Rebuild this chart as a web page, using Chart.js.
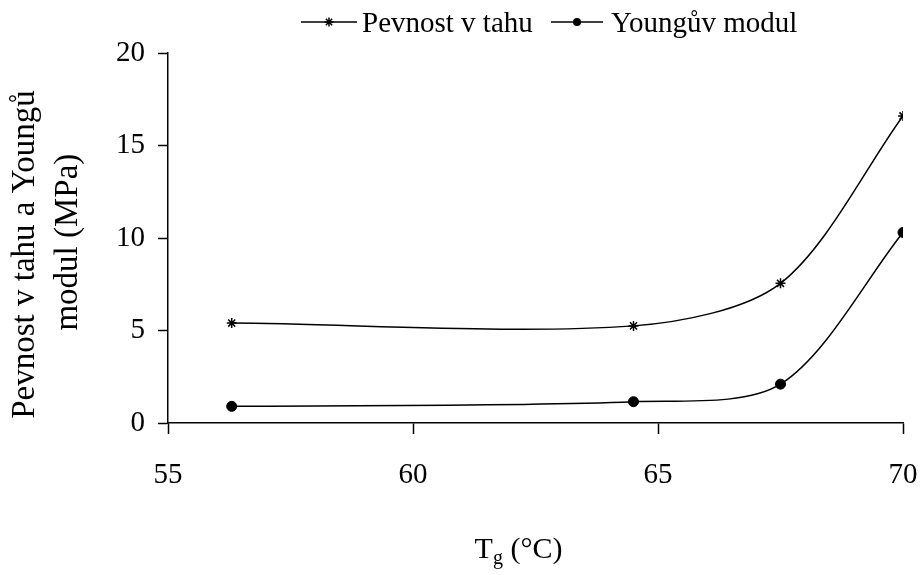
<!DOCTYPE html>
<html lang="cs">
<head>
    <meta charset="UTF-8">
    <title>Pevnost v tahu a Youngův modul</title>
    <script src="https://cdn.jsdelivr.net/npm/chart.js"></script>
    <style>
        html, body { margin: 0; padding: 0; background: #fff; }
    </style>
</head>
<body>
    <canvas id="tgChart" width="921" height="575"></canvas>

    <script>
        // data
        const tgValues = [56.3, 64.5, 67.5, 70.0];
        const pevnost = [5.4, 5.25, 7.55, 16.6];
        const young = [0.9, 1.15, 2.1, 10.3];
        const seriesNames = ['Pevnost v tahu', 'Youngův modul'];
        const xTicks = [55, 60, 65, 70];
        const yTicks = [0, 5, 10, 15, 20];

        const serif = "'Liberation Serif', 'Times New Roman', serif";

        const toPoints = (ys) => tgValues.map((x, i) => ({ x: x, y: ys[i] }));

        // small marker for the legend (same look as the points)
        function drawMarker(c, style, x, y, r) {
            c.beginPath();
            if (style === 'circle') {
                c.arc(x, y, r, 0, Math.PI * 2);
                c.fill();
            } else {
                const d = r * Math.SQRT1_2;
                c.moveTo(x - r, y); c.lineTo(x + r, y);
                c.moveTo(x, y - r); c.lineTo(x, y + r);
                c.moveTo(x - d, y - d); c.lineTo(x + d, y + d);
                c.moveTo(x - d, y + d); c.lineTo(x + d, y - d);
                c.stroke();
            }
        }

        // legend + x title drawn on the canvas
        const extras = {
            id: 'extras',
            afterDraw(chart) {
                const c = chart.ctx;
                c.save();
                c.fillStyle = '#000';
                c.strokeStyle = '#000';
                c.textBaseline = 'alphabetic';

                // legend
                const items = [
                    { x0: 301, x1: 357, tx: 362 },
                    { x0: 551, x1: 603, tx: 611 }
                ];
                const ly = 22;
                chart.data.datasets.forEach((ds, i) => {
                    const it = items[i];
                    c.lineWidth = 1.5;
                    c.beginPath();
                    c.moveTo(it.x0, ly);
                    c.lineTo(it.x1, ly);
                    c.stroke();
                    drawMarker(c, ds.pointStyle, (it.x0 + it.x1) / 2, ly, ds.pointStyle === 'circle' ? 4 : 4.5);
                    c.font = '29px ' + serif;
                    c.fillText(ds.label, it.tx, 32);
                });

                // x axis title: T with subscript g
                const xs = chart.scales.x;
                const cx = (xs.left + xs.right) / 2 - 17;
                const big = '30px ' + serif;
                const small = '20px ' + serif;
                c.font = big;
                const wT = c.measureText('T').width;
                const wRest = c.measureText(' (°C)').width;
                c.font = small;
                const wg = c.measureText('g').width;
                let x = cx - (wT + wg + wRest) / 2;
                const base = 558;
                c.font = big;
                c.fillText('T', x, base);
                x += wT;
                c.font = small;
                c.fillText('g', x, base + 6);
                x += wg;
                c.font = big;
                c.fillText(' (°C)', x, base);
                c.restore();
            }
        };

        const ctx = document.getElementById('tgChart').getContext('2d');
        const chart = new Chart(ctx, {
            type: 'line',
            data: {
                datasets: [{
                    label: seriesNames[0],
                    data: toPoints(pevnost),
                    borderColor: '#000',
                    backgroundColor: '#000',
                    borderWidth: 1.5,
                    tension: 0.3,
                    pointStyle: 'star',
                    pointRadius: 5,
                    pointBorderWidth: 1.5,
                    pointBorderColor: '#000',
                    pointBackgroundColor: '#000',
                    fill: false
                }, {
                    label: seriesNames[1],
                    data: toPoints(young),
                    borderColor: '#000',
                    backgroundColor: '#000',
                    borderWidth: 1.5,
                    tension: 0.3,
                    pointStyle: 'circle',
                    pointRadius: 5,
                    pointBorderWidth: 1,
                    pointBorderColor: '#000',
                    pointBackgroundColor: '#000',
                    fill: false
                }]
            },
            options: {
                responsive: false,
                animation: false,
                devicePixelRatio: 1,
                layout: { padding: { top: 53, right: 18, bottom: 0, left: 0 } },
                plugins: {
                    legend: { display: false },
                    tooltip: { enabled: false }
                },
                scales: {
                    x: {
                        type: 'linear',
                        min: xTicks[0],
                        max: xTicks[xTicks.length - 1],
                        afterBuildTicks: (s) => { s.ticks = xTicks.map(v => ({ value: v })); },
                        afterFit: (s) => {
                            s.height = 152;
                            s.paddingLeft = 0;
                            s.paddingRight = 0;
                        },
                        grid: {
                            drawOnChartArea: false,
                            tickLength: 11,
                            tickColor: '#000',
                            tickWidth: 1.5
                        },
                        border: { color: '#000', width: 1.5 },
                        ticks: {
                            color: '#000',
                            padding: 24,
                            maxRotation: 0,
                            font: { family: serif, size: 29 }
                        }
                    },
                    y: {
                        min: yTicks[0],
                        max: yTicks[yTicks.length - 1],
                        afterBuildTicks: (s) => { s.ticks = yTicks.map(v => ({ value: v })); },
                        afterFit: (s) => { s.width = 168; },
                        grid: {
                            drawOnChartArea: false,
                            tickLength: 10,
                            tickColor: '#000',
                            tickWidth: 1.5
                        },
                        border: { color: '#000', width: 1.5 },
                        ticks: {
                            color: '#000',
                            padding: 13,
                            font: { family: serif, size: 29 }
                        },
                        title: {
                            display: true,
                            // trailing spaces nudge the centred lines down a little
                            text: ['Pevnost v tahu a Youngů    ', 'modul (MPa) '],
                            color: '#000',
                            padding: { top: 4, bottom: 0 },
                            font: { family: serif, size: 33, lineHeight: 1.3 }
                        }
                    }
                }
            },
            plugins: [extras]
        });
    </script>
</body>
</html>
